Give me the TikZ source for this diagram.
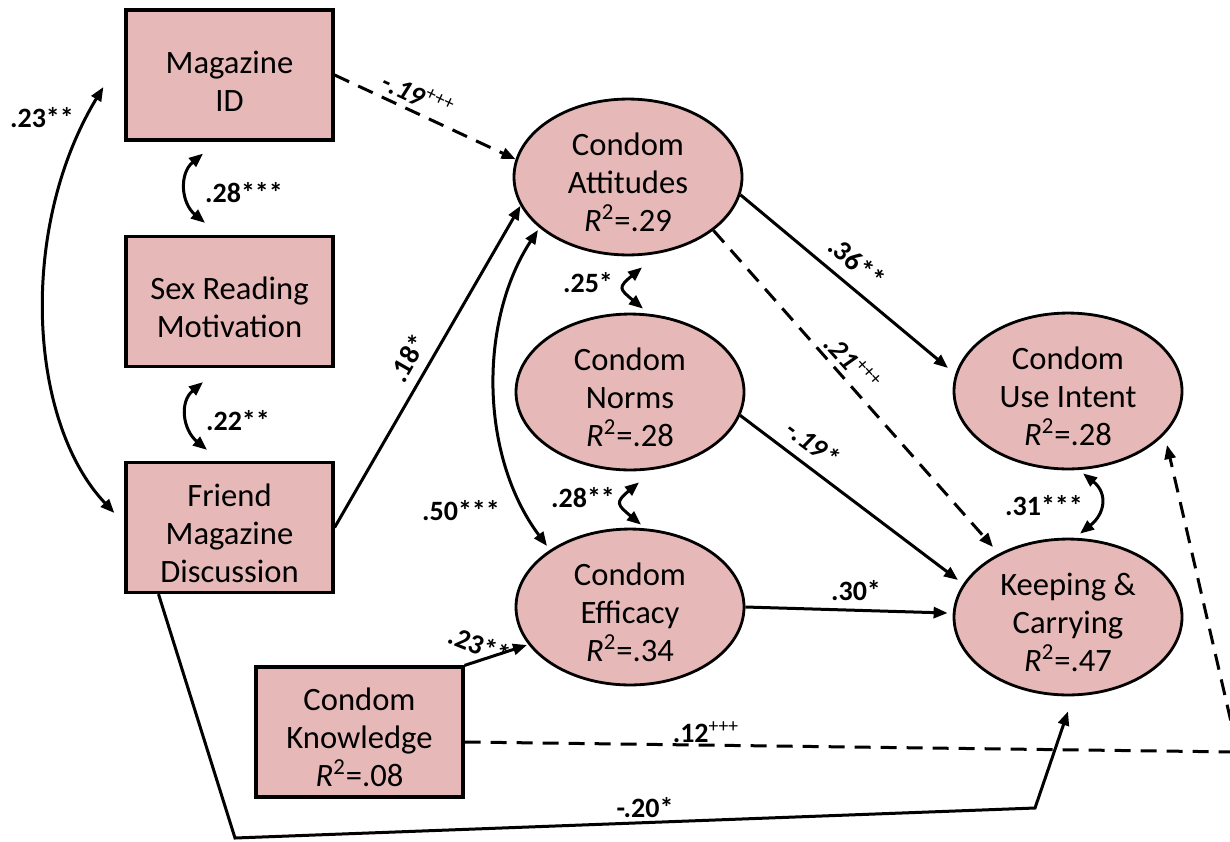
\documentclass[tikz,border=0pt]{standalone}
\usepackage{fontspec}
\setmainfont{Carlito}
\usetikzlibrary{shapes.geometric,arrows.meta,calc}
\definecolor{boxfill}{RGB}{230,184,183}
\newcommand\tplus{\textsuperscript{\mdseries\upshape +++}}
\newcommand\rsq{\textit{R}\textsuperscript{2}}
% taller first line so the text block sits a little lower in its shape
\newcommand\toprule{\rule{0pt}{17pt}}
\begin{document}
\begin{tikzpicture}[x=0.5pt,y=-0.5pt,
  obs/.style={draw, line width=1.6pt, fill=boxfill, minimum width=103.5pt,
    minimum height=65pt, inner sep=0pt, align=center,
    font=\fontsize{16.3}{19}\selectfont},
  lat/.style={ellipse, draw, line width=1.4pt, fill=boxfill, minimum width=114pt,
    minimum height=70pt, inner sep=0pt, align=center,
    font=\fontsize{16.3}{19}\selectfont},
  arr/.style={line width=1.5pt, -{Triangle[length=7pt,width=5.5pt]}},
  both/.style={line width=1.5pt, {Triangle[length=7pt,width=5.5pt]}-{Triangle[length=7pt,width=5.5pt]}},
  dsh/.style={dash pattern=on 8pt off 5pt},
  lab/.style={font=\fontsize{14}{16}\selectfont\bfseries, inner sep=0pt},
  ilab/.style={lab, font=\fontsize{14}{16}\selectfont\bfseries\itshape}]
\useasboundingbox (0,0) rectangle (1230,841);
\clip (0,0) rectangle (1230,841);

% observed measures
\node[obs] (mag) at (229.5,75) {\toprule Magazine\\ID};
\node[obs] (sex) at (229.5,301.5) {\toprule Sex Reading\\Motivation};
\node[obs] (fri) at (229.5,527.5) {\toprule Friend\\Magazine\\Discussion};
\node[obs] (kno) at (359.5,732) {\toprule Condom\\Knowledge\\\rsq=.08};

% latent constructs
\node[lat] (att) at (628,177) {\toprule Condom\\Attitudes\\\rsq=.29};
\node[lat] (nor) at (630,392) {\toprule Condom\\Norms\\\rsq=.28};
\node[lat] (eff) at (630,607) {\toprule Condom\\Efficacy\\\rsq=.34};
\node[lat] (use) at (1068,391) {\toprule Condom\\Use Intent\\\rsq=.28};
\node[lat] (kee) at (1068,617) {\toprule Keeping \&\\Carrying\\\rsq=.47};

% correlations (double-headed)
\draw[both] ($(mag.west)+(-21,12)$) .. controls (18,228) and (28,422) .. ($(fri.west)+(-10,-14.5)$);
\draw[both] ($(mag.south)+(-26.5,12)$) .. controls +(-24,20) and +(-24,-20) .. ($(sex.north)+(-24.5,-12)$);
\draw[both] ($(sex.south)+(-26.5,14)$) .. controls +(-24,20) and +(-24,-20) .. ($(fri.north)+(-22.5,-11)$);
\draw[both] ($(att.center)+(-90,53)$) .. controls (479,320) and (479,455) .. ($(eff.center)+(-83,-61)$);
\draw[both] ($(att.south)+(14,11)$) .. controls +(-24,20) and +(-24,-20) .. ($(nor.north)+(13,-4)$);
\draw[both] ($(nor.south)+(9,11)$) .. controls +(-24,20) and +(-24,-20) .. ($(eff.north)+(11,-3)$);
\draw[both] ($(use.south)+(15,3)$) .. controls +(25,20) and +(25,-20) .. ($(kee.north)+(12,-4)$);

% paths
\draw[arr,dsh] (mag.east) -- (att.171);
\draw[arr] (fri.east) -- (att.195);
\draw[arr] (att.351) -- ($(use.center)+(-120,-23)$);
\draw[arr,dsh] (att.328) -- ($(kee.center)+(-75,-70)$);
\draw[arr] (nor.348) -- ($(kee.center)+(-110,-37)$);
\draw[arr] (eff.east) -- ($(kee.west)+(-5,-4)$);
\draw[arr] (kno.north east) -- ($(eff.center)+(-103,38)$);
\coordinate (kc) at (1238,752);
\draw[arr,dsh] ($(kno.east)+(0,10)$) -- (kc) -- ($(use.center)+(99,54)$);
\coordinate (fc1) at (235,838);
\coordinate (fc2) at (1035,808);
\draw[arr] ($(fri.south)+(-71,0)$) -- (fc1) -- (fc2) -- ($(kee.south)+(0,15)$);

% coefficients
\node[lab] (l1) at (42,118) {.23**};
\node[lab] (l2) at (244,193) {.28***};
\node[lab] (l3) at (238,421) {.22**};
\node[ilab, rotate=-25] (l4) at (418,95) {-.19\tplus};
\node[lab, rotate=60] (l5) at (408,358) {.18*};
\node[lab, rotate=-40] (l6) at (857,262) {.36**};
\node[ilab, rotate=-48] (l7) at (853,363) {.21\tplus};
\node[ilab, rotate=-37] (l8) at (813,443) {-.19*};
\node[lab] (l9) at (856,591) {.30*};
\node[lab, rotate=-22] (l10) at (480,645) {.23**};
\node[lab] (l11) at (706,732) {.12\tplus};
\node[lab] (l12) at (645,808) {-.20*};
\node[lab] (l13) at (461,511) {.50***};
\node[lab] (l14) at (588,283) {.25*};
\node[lab] (l15) at (583,498) {.28**};
\node[lab] (l16) at (1044,506) {.31***};
\end{tikzpicture}
\end{document}
